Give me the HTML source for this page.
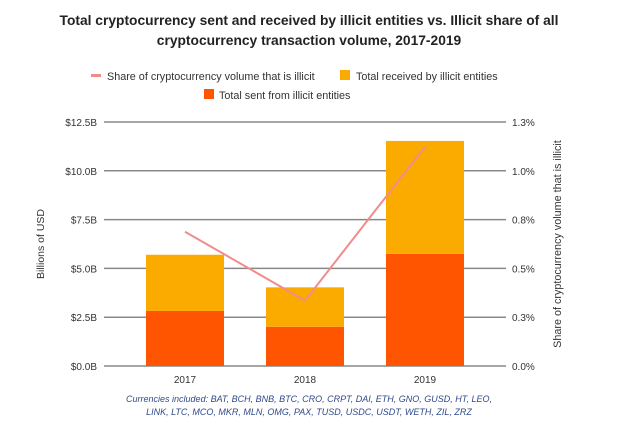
<!DOCTYPE html>
<html><head><meta charset="utf-8"><style>
body{margin:0;background:#fff;font-family:"Liberation Sans",sans-serif;}
</style></head><body>
<svg id="c" width="619" height="433" style="display:block">
<text x="309" y="25" text-anchor="middle" font-size="13.8" font-weight="bold" fill="#222">Total cryptocurrency sent and received by illicit entities vs. Illicit share of all</text>
<text x="309" y="45" text-anchor="middle" font-size="13.8" font-weight="bold" fill="#222">cryptocurrency transaction volume, 2017-2019</text>
<g font-size="10.8" fill="#333">
<g><rect x="91" y="74" width="10" height="3" fill="#f08c8c"/><text x="107" y="80">Share of cryptocurrency volume that is illicit</text></g>
<g><rect x="340" y="70" width="10" height="10" fill="#fbab00"/><text x="356" y="80">Total received by illicit entities</text></g>
<g><rect x="204" y="89" width="10" height="10" fill="#ff5500"/><text x="219" y="99">Total sent from illicit entities</text></g>
</g>
<g id="grid"></g><g id="bars"></g><g id="line"></g><g id="axes"></g>
<text transform="translate(44,244) rotate(-90)" text-anchor="middle" font-size="10.5" fill="#333">Billions of USD</text>
<text transform="translate(561,244) rotate(-90)" text-anchor="middle" font-size="10.8" fill="#333">Share of cryptocurrency volume that is illicit</text>
<text x="309" y="402" text-anchor="middle" font-size="9" font-style="italic" fill="#2f4a8c">Currencies included: BAT, BCH, BNB, BTC, CRO, CRPT, DAI, ETH, GNO, GUSD, HT, LEO,</text>
<text x="309" y="415" text-anchor="middle" font-size="9" font-style="italic" fill="#2f4a8c">LINK, LTC, MCO, MKR, MLN, OMG, PAX, TUSD, USDC, USDT, WETH, ZIL, ZRZ</text>
</svg>
<script>
const categories=["2017","2018","2019"];
const sent=[2.82,2.01,5.75];
const received=[2.88,2.02,5.78];
const share=[0.688,0.335,1.123];
const leftTicks=["$0.0B","$2.5B","$5.0B","$7.5B","$10.0B","$12.5B"];
const rightTicks=["0.0%","0.3%","0.5%","0.8%","1.0%","1.3%"];
const NS="http://www.w3.org/2000/svg";
const y0=366,y1=122,x0=104,x1=506;
const yL=v=>y0-(v/12.5)*(y0-y1);
const yR=v=>y0-(v/1.25)*(y0-y1);
const xC=i=>185+i*120;
function mk(t,a,p){const e=document.createElementNS(NS,t);for(const k in a)e.setAttribute(k,a[k]);p.appendChild(e);return e;}
const g=document.getElementById('grid'),ax=document.getElementById('axes'),b=document.getElementById('bars'),ln=document.getElementById('line');
leftTicks.forEach((t,i)=>{const y=yL(i*2.5);
const l=mk('line',{x1:x0,x2:x1,y1:y,y2:y,stroke:'#888','stroke-width':1.5},g);


const tx=mk('text',{x:97,y:y+4,'text-anchor':'end','font-size':10,fill:'#333'},ax);tx.textContent=t;


const tr=mk('text',{x:512,y:y+4,'font-size':10,fill:'#333'},ax);tr.textContent=rightTicks[i];

});
categories.forEach((c,i)=>{const x=xC(i)-39;
const r1=mk('rect',{x:x,y:yL(sent[i]),width:78,height:y0-yL(sent[i]),fill:'#ff5500'},b);


const top=sent[i]+received[i];
const r2=mk('rect',{x:x,y:yL(top),width:78,height:yL(sent[i])-yL(top),fill:'#fbab00'},b);


const t=mk('text',{x:xC(i),y:383,'text-anchor':'middle','font-size':10,fill:'#333'},ax);t.textContent=c;

});
const p=mk('polyline',{points:share.map((v,i)=>xC(i)+','+yR(v)).join(' '),fill:'none',stroke:'#f08c8c','stroke-width':2},ln);


</script>
</body></html>
